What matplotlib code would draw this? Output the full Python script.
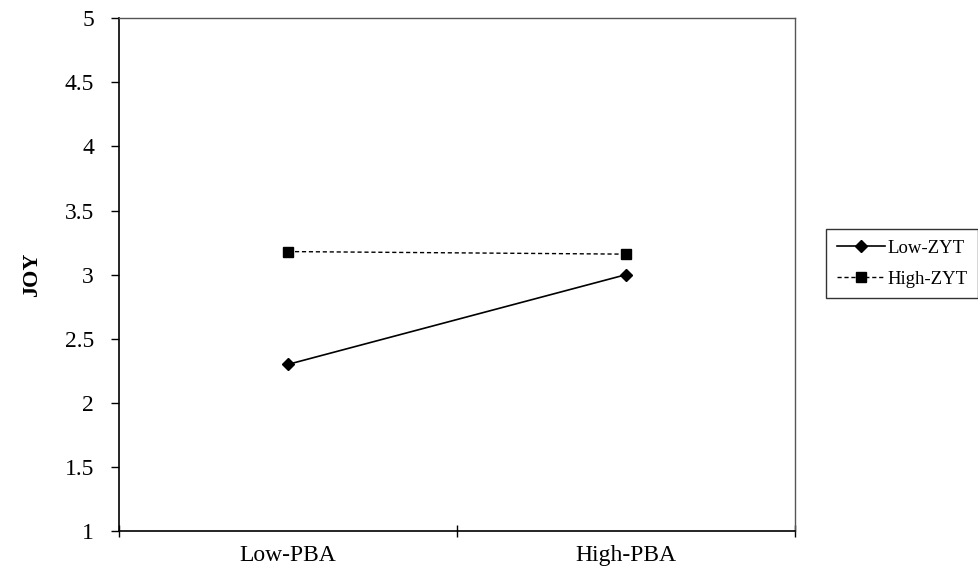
import matplotlib.pyplot as plt
from matplotlib.ticker import FixedLocator

plt.rcParams['font.family'] = ['Liberation Serif', 'DejaVu Serif']

# data
categories = ['Low-PBA', 'High-PBA']
low_zyt = [2.30, 3.00]
high_zyt = [3.18, 3.16]
y_ticks = [1, 1.5, 2, 2.5, 3, 3.5, 4, 4.5, 5]
y_labels = ['1', '1.5', '2', '2.5', '3', '3.5', '4', '4.5', '5']

fig = plt.figure(figsize=(9.79, 5.71), dpi=100)
ax = fig.add_axes([0.1216, 0.070, 0.6905, 0.898])

x = list(range(len(categories)))
ax.plot(x, low_zyt, color='black', linestyle='-', linewidth=1.2,
        marker='D', markersize=6, label='Low-ZYT')
ax.plot(x, high_zyt, color='black', linestyle=(0, (3, 2)), linewidth=1.0,
        marker='s', markersize=7, label='High-ZYT')

ax.set_xlim(-0.5, len(categories) - 0.5)
ax.set_ylim(1, 5)
ax.set_yticks(y_ticks)
ax.set_yticklabels(y_labels, fontsize=17)

# category boundaries as major ticks, labels centred on categories
ax.xaxis.set_major_locator(FixedLocator([-0.5, 0.5, 1.5]))
ax.xaxis.set_major_formatter(plt.NullFormatter())
ax.set_xticks(x, minor=True)
ax.set_xticklabels(categories, minor=True, fontsize=17)
ax.tick_params(axis='x', which='minor', length=0, pad=10)
ax.tick_params(axis='x', which='major', direction='inout', length=8, width=1)
ax.tick_params(axis='y', direction='out', length=6, width=1, pad=12)

ax.set_ylabel('JOY', fontsize=16, fontweight='bold', labelpad=16)

for side in ['left', 'bottom']:
    ax.spines[side].set_linewidth(1.2)
    ax.spines[side].set_color('black')
for side in ['top', 'right']:
    ax.spines[side].set_linewidth(1.0)
    ax.spines[side].set_color('#555555')

leg = fig.legend(loc='center left', bbox_to_anchor=(0.844, 0.538),
                 fontsize=13.5, frameon=True, fancybox=False, handlelength=2.6,
                 labelspacing=0.75, borderpad=0.55, borderaxespad=0,
                 handletextpad=0.1)
leg.get_frame().set_edgecolor('black')
leg.get_frame().set_linewidth(1.0)

plt.savefig('out.png', dpi=100)
